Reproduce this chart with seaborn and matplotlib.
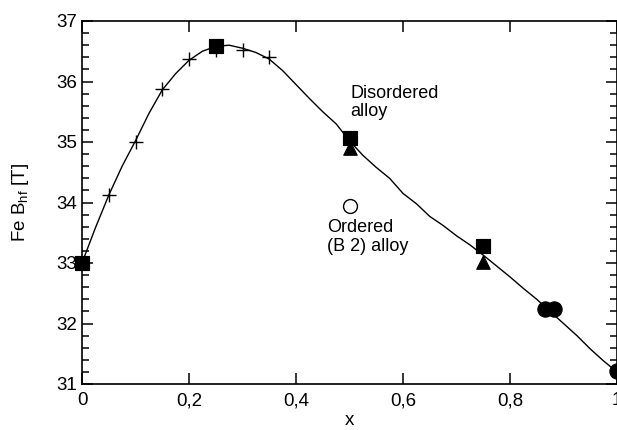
#!/usr/bin/env python3

import pandas as pd
import matplotlib
matplotlib.use("Agg")
import matplotlib.pyplot as plt
import seaborn as sns
from matplotlib.ticker import MultipleLocator, FuncFormatter

# smooth guide curve
curve_x = [0.0, 0.025, 0.05, 0.075, 0.10, 0.125, 0.15, 0.175, 0.20, 0.225,
           0.25, 0.275, 0.30, 0.325, 0.35, 0.375, 0.40, 0.425, 0.45, 0.475,
           0.50, 0.525, 0.55, 0.575, 0.60, 0.625, 0.65, 0.675, 0.70, 0.725,
           0.75, 0.775, 0.80, 0.825, 0.85, 0.875, 0.90, 0.925, 0.95, 0.975, 1.0]
curve_y = [33.0, 33.58, 34.12, 34.6, 35.02, 35.47, 35.86, 36.13, 36.35, 36.5,
           36.58, 36.6, 36.55, 36.48, 36.37, 36.18, 35.95, 35.72, 35.5, 35.3,
           35.02, 34.78, 34.58, 34.4, 34.15, 33.98, 33.77, 33.62, 33.45, 33.3,
           33.13, 32.95, 32.77, 32.58, 32.4, 32.2, 32.0, 31.8, 31.58, 31.38, 31.2]

cross_x = [0.05, 0.10, 0.15, 0.20, 0.25, 0.30, 0.35]
cross_y = [34.12, 35.0, 35.88, 36.38, 36.52, 36.52, 36.4]

square_x = [0.0, 0.25, 0.50, 0.75]
square_y = [33.0, 36.58, 35.07, 33.28]

triangle_x = [0.50, 0.75]
triangle_y = [34.9, 33.02]

circle_x = [0.865, 0.882, 1.0]
circle_y = [32.24, 32.24, 31.22]

ordered_x = [0.50]
ordered_y = [33.95]

sns.set_style("ticks")
plt.rcParams["font.family"] = ["Liberation Sans", "DejaVu Sans"]
plt.rcParams["mathtext.fontset"] = "custom"
plt.rcParams["mathtext.rm"] = "Liberation Sans"
plt.rcParams["text.color"] = "black"
plt.rcParams["axes.labelcolor"] = "black"

fig = plt.figure(figsize=(6.17, 4.30), dpi=100)
ax = fig.add_axes([82 / 617, 46 / 430, 535 / 617, 363 / 430])

curve_df = pd.DataFrame({"x": curve_x, "y": curve_y})
sns.lineplot(data=curve_df, x="x", y="y", ax=ax, color="black", lw=1.0,
             sort=False, zorder=2)

sns.scatterplot(x=cross_x, y=cross_y, ax=ax, marker="+", s=110, color="black",
                linewidth=1.0, zorder=3)
sns.scatterplot(x=triangle_x, y=triangle_y, ax=ax, marker="^", s=95, color="black",
                edgecolor="black", zorder=3)
sns.scatterplot(x=square_x, y=square_y, ax=ax, marker="s", s=110, color="black",
                edgecolor="black", zorder=4, clip_on=False)
sns.scatterplot(x=circle_x, y=circle_y, ax=ax, marker="o", s=120, color="black",
                edgecolor="black", zorder=4, clip_on=False)
sns.scatterplot(x=ordered_x, y=ordered_y, ax=ax, marker="o", s=100, color="white",
                edgecolor="black", linewidth=1.0, zorder=4)

ax.text(0.502, 35.95, "Disordered\nalloy", fontsize=13, va="top", ha="left",
        linespacing=1.15)
ax.text(0.458, 33.72, "Ordered\n(B 2) alloy", fontsize=13, va="top", ha="left",
        linespacing=1.15)

ax.set_xlim(0, 1)
ax.set_ylim(31, 37)
ax.xaxis.set_major_locator(MultipleLocator(0.2))
ax.yaxis.set_major_locator(MultipleLocator(1))
ax.yaxis.set_minor_locator(MultipleLocator(0.2))
ax.xaxis.set_major_formatter(FuncFormatter(lambda v, p: f"{v:g}".replace(".", ",")))

ax.tick_params(axis="both", which="both", direction="in", top=True, right=True,
               labelsize=13.5, width=1.1, colors="black")
ax.tick_params(axis="both", which="major", length=8)
ax.tick_params(axis="y", which="minor", length=5)
ax.tick_params(axis="x", which="major", pad=6)

for s in ax.spines.values():
    s.set_linewidth(1.2)
    s.set_color("black")

ax.set_xlabel("x", fontsize=13.5, labelpad=2)
ax.set_ylabel("Fe B$_\\mathregular{hf}$ [T]", fontsize=13.5, labelpad=18)

fig.savefig("out.png", dpi=100)
